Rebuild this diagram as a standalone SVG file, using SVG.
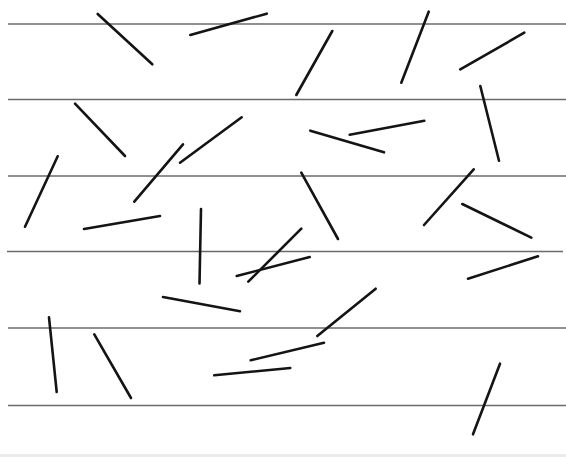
<svg xmlns="http://www.w3.org/2000/svg" width="566" height="457" viewBox="0 0 566 457">
<style>
.rule{stroke:#6a6a6a;stroke-width:1.6;fill:none}
.needle{stroke:#141414;stroke-width:2.6;stroke-linecap:round;fill:none}
</style>
<rect x="0" y="0" width="566" height="457" fill="#ffffff"/>
<rect x="0" y="454" width="566" height="3" fill="#ececec"/>
<g id="rules">
<line class="rule" x1="8" y1="24" x2="566" y2="24"/>
<line class="rule" x1="8" y1="99.5" x2="566" y2="99.5"/>
<line class="rule" x1="8" y1="176" x2="566" y2="176"/>
<line class="rule" x1="7" y1="251.5" x2="563" y2="251.5"/>
<line class="rule" x1="8" y1="328" x2="566" y2="328"/>
<line class="rule" x1="8" y1="405.5" x2="566" y2="405.5"/>
</g>
<g id="needles">
<line class="needle" x1="97.7" y1="14" x2="152.3" y2="64.3"/>
<line class="needle" x1="190.3" y1="35" x2="266.7" y2="13.7"/>
<line class="needle" x1="296.3" y1="95" x2="332.3" y2="31"/>
<line class="needle" x1="401.3" y1="82.7" x2="428.7" y2="11.7"/>
<line class="needle" x1="460.3" y1="69.3" x2="524.3" y2="32.7"/>
<line class="needle" x1="75" y1="103.7" x2="125" y2="156"/>
<line class="needle" x1="180" y1="162.7" x2="241.7" y2="117.3"/>
<line class="needle" x1="310.3" y1="130.7" x2="384" y2="152.3"/>
<line class="needle" x1="349.7" y1="134.7" x2="424.3" y2="120.7"/>
<line class="needle" x1="480.3" y1="86" x2="499" y2="160.7"/>
<line class="needle" x1="25" y1="226.7" x2="57.7" y2="156.3"/>
<line class="needle" x1="134.3" y1="201.7" x2="183" y2="144.3"/>
<line class="needle" x1="84" y1="229" x2="160" y2="216"/>
<line class="needle" x1="201" y1="209" x2="199.5" y2="283.5"/>
<line class="needle" x1="301.3" y1="172.7" x2="338" y2="239"/>
<line class="needle" x1="424" y1="225" x2="473.7" y2="169.3"/>
<line class="needle" x1="462.3" y1="204" x2="531.3" y2="237.7"/>
<line class="needle" x1="236.7" y1="276" x2="309.7" y2="257"/>
<line class="needle" x1="248.3" y1="281.7" x2="301.3" y2="228.7"/>
<line class="needle" x1="468" y1="278.7" x2="538" y2="256.3"/>
<line class="needle" x1="163" y1="297" x2="240" y2="311.3"/>
<line class="needle" x1="317.3" y1="336" x2="375.7" y2="288.7"/>
<line class="needle" x1="49" y1="317.3" x2="56.7" y2="392"/>
<line class="needle" x1="94.3" y1="334.3" x2="131" y2="398"/>
<line class="needle" x1="250.7" y1="360.3" x2="324" y2="342.7"/>
<line class="needle" x1="214.3" y1="375.3" x2="290.3" y2="368"/>
<line class="needle" x1="473" y1="434.3" x2="500" y2="363.7"/>
</g>
</svg>
